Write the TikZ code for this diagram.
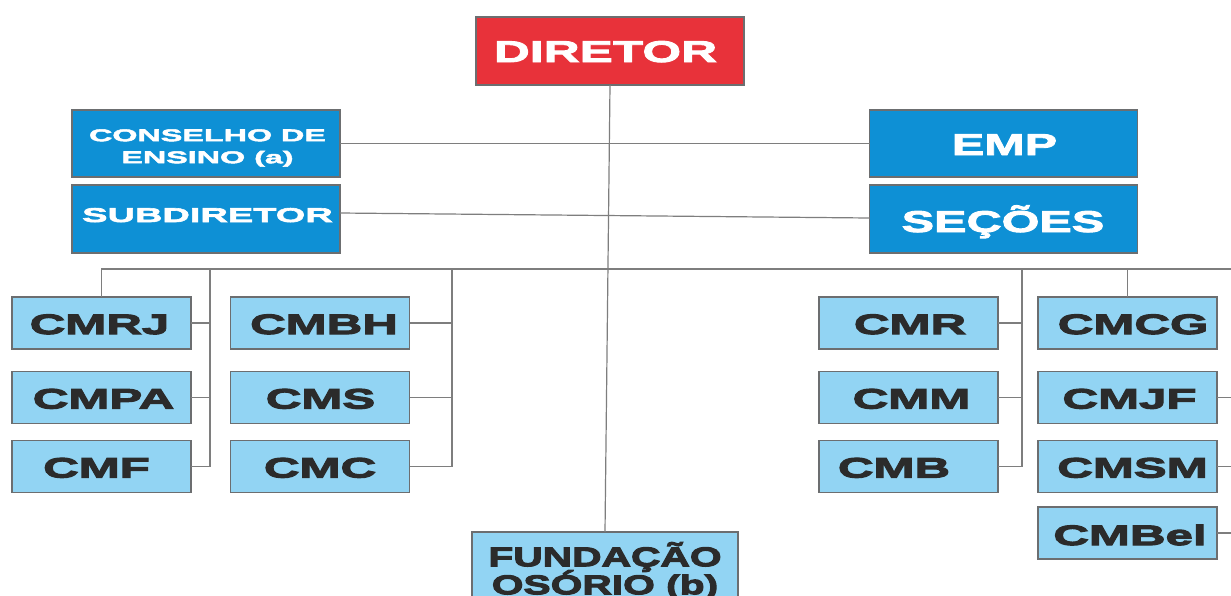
\documentclass[tikz,border=0pt]{standalone}
\usepackage{fontspec}
\setmainfont{Liberation Sans}
% horizontally widened, heavier bold faces for the box captions
\newfontfamily\fDir{Liberation Sans}[FakeStretch=1.66,FakeBold=3]
\newfontfamily\fWide{Liberation Sans}[FakeStretch=1.9,FakeBold=3]
\newfontfamily\fMid{Liberation Sans}[FakeStretch=1.62,FakeBold=3]
\newfontfamily\fCm{Liberation Sans}[FakeStretch=1.76,FakeBold=4]
\newfontfamily\fFund{Liberation Sans}[FakeStretch=1.51,FakeBold=4]
\definecolor{dirred}{HTML}{E8323A}
\definecolor{topblue}{HTML}{0E90D5}
\definecolor{cmblue}{HTML}{92D4F3}
\definecolor{edgegray}{HTML}{6C6E70}
\definecolor{linegray}{HTML}{7E7E7E}
\definecolor{darktext}{HTML}{2B2B2B}
\begin{document}
\begin{tikzpicture}[x=1pt,y=-1pt,
  unit/.style={draw=edgegray,line width=1.3pt,inner sep=0pt,outer sep=0pt},
  redbox/.style={unit,fill=dirred,minimum width=268pt,minimum height=68pt},
  bluebox/.style={unit,fill=topblue,minimum width=268pt,minimum height=67pt},
  cmbox/.style={unit,fill=cmblue,minimum width=179pt,minimum height=52pt},
  lbl/.style={anchor=base,inner sep=0pt,outer sep=0pt},
  wlbl/.style={lbl,text=white},
  dlbl/.style={lbl,text=darktext,font=\fCm\bfseries\fontsize{28}{30}\selectfont},
  link/.style={draw=linegray,line width=1.2pt}]
\clip (0,0) rectangle (1231,595);
\fill[white] (0,0) rectangle (1231,595);

% top level
\node[redbox] (dir) at (610,51) {};
\node[bluebox] (cons) at (206,143.5) {};
\node[bluebox,minimum height=68pt] (sub) at (206,219) {};
\node[bluebox] (emp) at (1003.5,143.5) {};
\node[bluebox,minimum height=68pt] (sec) at (1003.5,219) {};
\node[cmbox,minimum width=266pt,minimum height=100pt] (fund) at (605,582) {};

% colleges, left group
\node[cmbox] (cmrj) at (101.5,323) {};
\node[cmbox] (cmpa) at (101.5,397.5) {};
\node[cmbox] (cmf)  at (101.5,466.5) {};
\node[cmbox] (cmbh) at (320,323) {};
\node[cmbox] (cms)  at (320,397.5) {};
\node[cmbox] (cmc)  at (320,466.5) {};
% colleges, right group
\node[cmbox] (cmr)  at (908.5,323) {};
\node[cmbox] (cmm)  at (908.5,397.5) {};
\node[cmbox] (cmb)  at (908.5,466.5) {};
\node[cmbox] (cmcg) at (1127.5,323) {};
\node[cmbox] (cmjf) at (1127.5,397.5) {};
\node[cmbox] (cmsm) at (1127.5,466.5) {};
\node[cmbox] (cmbel) at (1127.5,533) {};

% captions
\node[wlbl,font=\fDir\bfseries\fontsize{30}{36}\selectfont] (dir-t) at (605.5,62) {DIRETOR};
\node[anchor=north,inner sep=0pt,text=white,font=\fWide\bfseries\fontsize{17}{22}\selectfont] (cons-t) at (207.5,125.6)
  {\begin{tabular}{@{}c@{}}\smash{CONSELHO DE}\\\smash{ENSINO (a)}\end{tabular}};
\node[wlbl,font=\fWide\bfseries\fontsize{20}{24}\selectfont] (sub-t) at (207.5,222) {SUBDIRETOR};
\node[wlbl,font=\fMid\bfseries\fontsize{30}{36}\selectfont] (emp-t) at (1004.5,155) {EMP};
\node[wlbl,font=\fMid\bfseries\fontsize{30}{36}\selectfont] (sec-t) at (1003,232) {SEÇÕES};
\node[anchor=north,inner sep=0pt,text=darktext,font=\fFund\bfseries\fontsize{27}{28}\selectfont] (fund-t) at (605,546.4)
  {\begin{tabular}{@{}c@{}}\smash{FUNDAÇÃO}\\\smash{OSÓRIO (b)}\end{tabular}};

\node[dlbl] (cmrj-t) at (99.5,334) {CMRJ};
\node[dlbl] (cmpa-t) at (103.5,408.5) {CMPA};
\node[dlbl] (cmf-t)  at (96.5,477.5) {CMF};
\node[dlbl] (cmbh-t) at (324,334) {CMBH};
\node[dlbl] (cms-t)  at (320.5,408.5) {CMS};
\node[dlbl] (cmc-t)  at (320,477.5) {CMC};
\node[dlbl] (cmr-t)  at (910,334) {CMR};
\node[dlbl] (cmm-t)  at (911.5,408.5) {CMM};
\node[dlbl] (cmb-t)  at (894,477.5) {CMB};
\node[dlbl] (cmcg-t) at (1133,334) {CMCG};
\node[dlbl] (cmjf-t) at (1129.5,408.5) {CMJF};
\node[dlbl] (cmsm-t) at (1132.5,477.5) {CMSM};
\node[dlbl] (cmbel-t) at (1130,545) {CMBel};

% connectors
\coordinate (busL) at (101.5,269);
\coordinate (busR) at (1231,269);
\coordinate (tA) at (210,269);
\coordinate (tB) at (452,269);
\coordinate (tC) at (1022,269);
\coordinate (rim) at (1231,0);

\draw[link] (dir.south) -- (fund.north);
\draw[link] (cons.east) -- (emp.west);
\draw[link] ([yshift=6]sub.east) -- ([yshift=1]sec.west);

\draw[link] (cmrj.north) -- (busL) -- (busR);
\draw[link] (tA) |- (cmf.east);
\draw[link] (cmrj.east) -- (cmrj.east -| tA);
\draw[link] (cmpa.east) -- (cmpa.east -| tA);
\draw[link] (tB) |- (cmc.east);
\draw[link] (cmbh.east) -- (cmbh.east -| tB);
\draw[link] (cms.east) -- (cms.east -| tB);
\draw[link] (tC) |- (cmb.east);
\draw[link] (cmr.east) -- (cmr.east -| tC);
\draw[link] (cmm.east) -- (cmm.east -| tC);
\draw[link] (cmcg.north) -- (cmcg.north |- busR);
\draw[link] (cmjf.east) -- (cmjf.east -| rim);
\draw[link] (cmsm.east) -- (cmsm.east -| rim);
\draw[link] (cmbel.east) -- (cmbel.east -| rim);
\end{tikzpicture}
\end{document}
